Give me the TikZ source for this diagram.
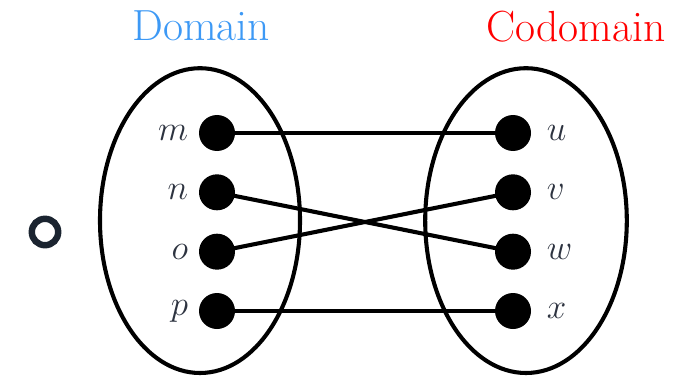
\documentclass[tikz,border=0pt]{standalone}
\usepackage{tikz}
\definecolor{domblue}{RGB}{61,153,245}
\definecolor{labelgray}{RGB}{45,51,64}
\definecolor{ringgray}{RGB}{27,36,48}

\begin{document}
\begin{tikzpicture}[
        elt/.style={text=labelgray, font=\fontsize{34}{40}\selectfont},
        title/.style={font=\fontsize{31}{37}\selectfont},
        link/.style={line width=2.9pt},
        set/.style={line width=2.9pt}
    ]
            \useasboundingbox (0,0) rectangle (17.15,9.375);

            % the two sets
            \draw[set] (5.0,3.86) ellipse (2.5 and 3.81);
            \draw[set] (13.15,3.86) ellipse (2.52 and 3.81);

            \node[title, text=domblue] (dom) at (5.03,8.72) {Domain};
            \node[title, text=red] (cod) at (14.4,8.72) {Codomain};

            \coordinate (m) at (5.425,6.05);
            \coordinate (n) at (5.425,4.567);
            \coordinate (o) at (5.425,3.083);
            \coordinate (p) at (5.425,1.6);

            \coordinate (u) at (12.825,6.05);
            \coordinate (v) at (12.825,4.567);
            \coordinate (w) at (12.825,3.083);
            \coordinate (x) at (12.825,1.6);

            \draw[link] (m) -- (u);
            \draw[link] (n) -- (w);
            \draw[link] (o) -- (v);
            \draw[link] (p) -- (x);

            \fill (m) circle (0.45) node[elt, left=0.6cm] (lm) {$m$};
            \fill (n) circle (0.45) node[elt, left=0.6cm] (ln) {$n$};
            \fill (o) circle (0.45) node[elt, left=0.6cm] (lo) {$o$};
            \fill (p) circle (0.45) node[elt, left=0.6cm] (lp) {$p$};

            \fill (u) circle (0.45) node[elt, right=0.72cm] (lu) {$u$};
            \fill (v) circle (0.45) node[elt, right=0.72cm] (lv) {$v$};
            \fill (w) circle (0.45) node[elt, right=0.72cm] (lw) {$w$};
            \fill (x) circle (0.45) node[elt, right=0.72cm] (lx) {$x$};

            %\draw (0,0) rectangle (17.15,9.375);
            \draw[ringgray, line width=4.6pt] (1.125,3.575) circle (0.33);

        \end{tikzpicture}
\end{document}
